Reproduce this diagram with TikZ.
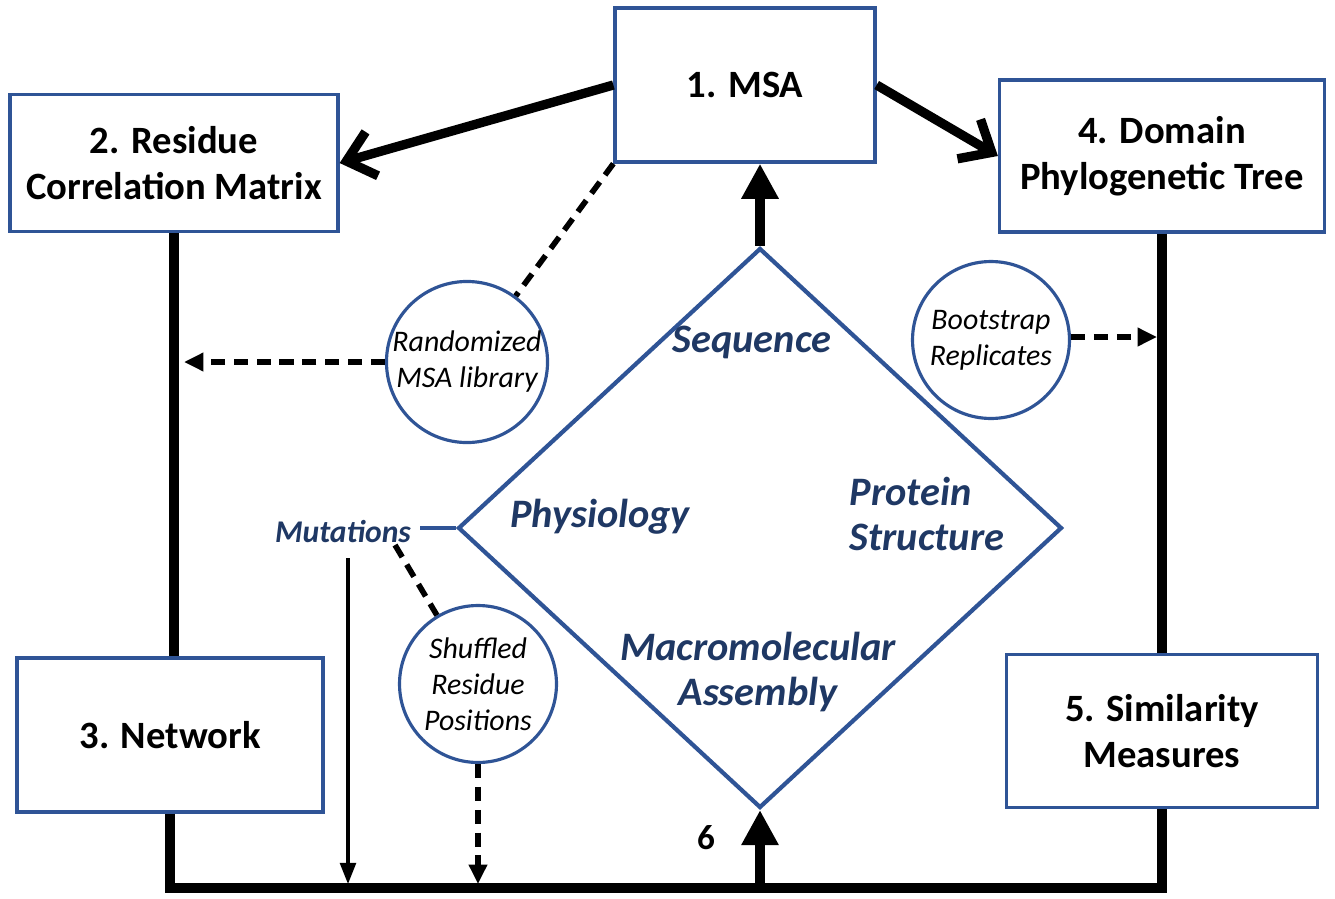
\documentclass[tikz,border=0pt]{standalone}
\usepackage{fontspec}
\setmainfont{Carlito}
\usetikzlibrary{arrows.meta,positioning,shapes.geometric}
\definecolor{boxblue}{RGB}{47,84,150}
\definecolor{textblue}{RGB}{31,56,100}

\begin{document}
\begin{tikzpicture}[x=0.02cm,y=-0.02cm,
      box_st/.style={
         rectangle,
         draw=boxblue,
         fill=white,
         line width=1.9pt,
         inner sep=2pt,
         align=center,
         font=\fontsize{22}{26}\selectfont\bfseries},
      circle_node/.style={
         circle,
         draw=boxblue,
         fill=white,
         line width=1.8pt,
         inner sep=0pt,
         minimum size=3.14cm,
         align=center,
         font=\fontsize{17}{20.5}\selectfont\itshape},
      field_txt/.style={
         text=textblue,
         font=\fontsize{23}{25.5}\selectfont\bfseries\itshape},
      arrow_bold/.style={
        line width=5.3pt,
        },
      arrow_open/.style={
        arrow_bold,
        -{Straight Barb[length=15pt,width=26pt]},
        },
      arrow_solid/.style={
        arrow_bold,
        -{Triangle[length=20pt,width=20pt]},
        },
      arrow_dash/.style={
        line width=3.2pt,
        dash pattern=on 8pt off 5pt,
        },
      arrow_thin/.style={
        line width=1.8pt,
        -{Triangle[length=12pt,width=9pt]},
        }
]
      \useasboundingbox (0,0) rectangle (1335,899);

      %boxes
      \node[box_st,minimum width=5.2cm,minimum height=3.08cm] (msa) at (745,85) {1. MSA};
      \node[box_st,minimum width=6.56cm,minimum height=2.74cm] (res) at (174,163) {2. Residue\\Correlation Matrix};
      \node[box_st,minimum width=6.5cm,minimum height=3.04cm] (tree) at (1162,156) {4. Domain\\Phylogenetic Tree};
      \node[box_st,minimum width=6.12cm,minimum height=3.08cm] (net) at (170,735) {3. Network};
      \node[box_st,minimum width=6.22cm,minimum height=3.06cm] (sim) at (1162,731) {5. Similarity\\Measures};

      %central diamond
      \node[diamond,draw=boxblue,line width=2.4pt,inner sep=0pt,
            minimum width=12.08cm,minimum height=11.2cm] (hub) at (760,528) {};
      \node[field_txt] (seq) at (752,342) {Sequence};
      \node[field_txt] (phys) at (600,517) {Physiology};
      \node[field_txt,align=left] (prot) at (927,514) {Protein\\Structure};
      \node[field_txt,align=center] (macro) at (758,672) {Macromolecular\\Assembly};

      %circles
      \node[circle_node] (rand) at (467,362) {Randomized\\MSA library};
      \node[circle_node] (boot) at (991,340) {Bootstrap\\Replicates};
      \node[circle_node] (shuf) at (478,684) {Shuffled\\Residue\\Positions};

      \node[text=textblue,font=\fontsize{18}{21}\selectfont\bfseries\itshape] (mut) at (343,532) {Mutations};
      \node[font=\fontsize{20}{24}\selectfont\bfseries] (six) at (706,838) {6};

      \coordinate (hubin) at (760,888);
      \coordinate (randin) at (184,362);
      \coordinate (bootin) at (1157,337);
      \coordinate (mutlink) at (420,528);
      \coordinate (mutout) at (348,558);
      \coordinate (mutin) at (348,884);
      \coordinate (mutdash) at (395,545);

      %main loop
      \draw[arrow_bold] (res.south) -- (res.south |- net.north);
      \draw[arrow_bold] (tree.south) -- (sim.north);
      \draw[arrow_bold] (net.south) |- (hubin) -| (sim.south);
      \draw[arrow_open] (msa.west) -- (res.east);
      \draw[arrow_open] (msa.east) -- (tree.west);
      \foreach \i/\j in {hub.north/hub.north |- msa.south, hubin/hub.south}
        \draw[arrow_solid] (\i) -- (\j);

      %dashed links
      \draw[arrow_dash] (msa.south west) -- (rand);
      \draw[arrow_dash] (mutdash) -- (shuf);
      \foreach \i/\j in {rand.west/randin, boot.east |- bootin/bootin, shuf.south/shuf.south |- mutin}
        \draw[arrow_dash,-{Triangle[length=11pt,width=10pt]}] (\i) -- (\j);

      %mutations
      \draw[boxblue,line width=2.4pt] (mutlink) -- (hub.west);
      \draw[arrow_thin] (mutout) -- (mutin);

\end{tikzpicture}
\end{document}
